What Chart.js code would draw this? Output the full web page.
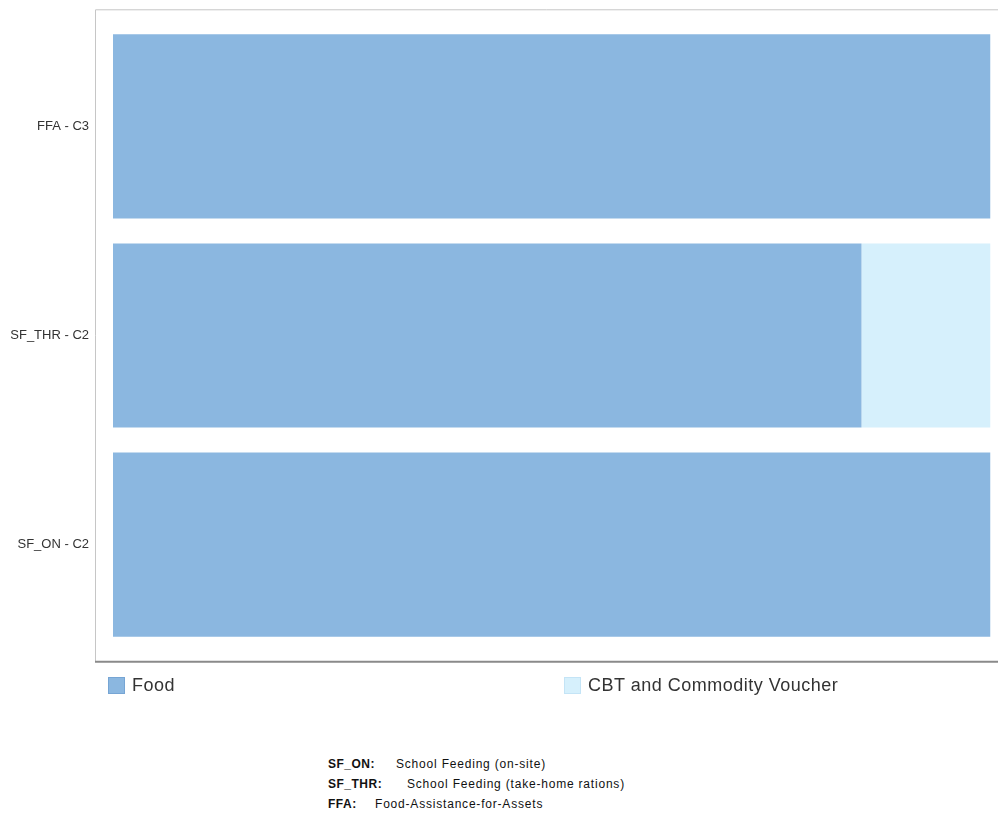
<!DOCTYPE html>
<html>
<head>
<meta charset="utf-8">
<script src="https://cdn.jsdelivr.net/npm/chart.js@4/dist/chart.umd.min.js"></script>
<style>
  body { margin: 0; background: #fff; font-family: "Liberation Sans", Arial, sans-serif; overflow: hidden; }
  #wrap { position: relative; width: 998px; height: 814px; overflow: hidden; }
  #chart { position: absolute; left: 0; top: -10px; }
  .leg { position: absolute; top: 675px; font-size: 18px; letter-spacing: 0.5px; color: #333; white-space: nowrap; }
  .leg .box { position: absolute; left: 0; top: 2px; width: 17px; height: 17px; box-sizing: border-box; }
  .leg span.t { position: absolute; left: 24px; top: 0; line-height: 20px; }
  .note { position: absolute; left: 328px; font-size: 12px; letter-spacing: 0.8px; color: #111; white-space: nowrap; line-height: 14px; }
  .note b { letter-spacing: 0.5px; }
</style>
</head>
<body>
<div id="wrap">
  <canvas id="chart" width="998" height="691"></canvas>
  <div id="legend"></div>
  <div class="note" style="top:757px"><b>SF_ON:</b><span style="position:absolute;left:68px">School Feeding (on-site)</span></div>
  <div class="note" style="top:777px"><b>SF_THR:</b><span style="position:absolute;left:79px">School Feeding (take-home rations)</span></div>
  <div class="note" style="top:797px"><b>FFA:</b><span style="position:absolute;left:47px">Food-Assistance-for-Assets</span></div>
</div>
<script>
const categories = ['FFA - C3', 'SF_THR - C2', 'SF_ON - C2'];
const foodValues = [100, 85.3, 100];
const cbtValues = [0, 14.7, 0];
const seriesNames = ['Food', 'CBT and Commodity Voucher'];
const seriesColors = ['rgb(139, 183, 224)', 'rgb(214, 240, 252)'];
const legendBorders = ['rgb(118, 165, 212)', 'rgb(196, 228, 246)'];
const legendLeft = [108, 564];

// frame around the plot: light left/top lines, darker bottom axis line
const framePlugin = {
  id: 'frame',
  beforeDraw(chart) {
    const { ctx, chartArea } = chart;
    const left = chartArea.left - 17.5;
    const top = chartArea.top - 12;
    const bottom = chartArea.bottom + 12.5;
    ctx.save();
    ctx.strokeStyle = '#c6c6c6';
    ctx.lineWidth = 1;
    ctx.beginPath();
    ctx.moveTo(left, bottom);
    ctx.lineTo(left, top);
    ctx.lineTo(chart.width, top);
    ctx.stroke();
    ctx.strokeStyle = '#8a8a8a';
    ctx.lineWidth = 2;
    ctx.beginPath();
    ctx.moveTo(left - 0.5, bottom);
    ctx.lineTo(chart.width, bottom);
    ctx.stroke();
    ctx.restore();
  }
};

new Chart(document.getElementById('chart').getContext('2d'), {
  type: 'bar',
  data: {
    labels: categories,
    datasets: [
      { label: seriesNames[0], data: foodValues, backgroundColor: seriesColors[0] },
      { label: seriesNames[1], data: cbtValues, backgroundColor: seriesColors[1] }
    ]
  },
  options: {
    indexAxis: 'y',
    responsive: false,
    animation: false,
    devicePixelRatio: 1,
    layout: { padding: { top: 0, bottom: 0, right: 7.5, left: 0 } },
    datasets: { bar: { categoryPercentage: 1, barPercentage: 0.88 } },
    plugins: { legend: { display: false }, tooltip: { enabled: false } },
    scales: {
      x: { stacked: true, min: 0, max: 100, display: false },
      y: {
        stacked: true,
        grid: { display: false, drawTicks: false },
        border: { display: false },
        ticks: { padding: 24, color: '#333', font: { family: '"Liberation Sans", Arial, sans-serif', size: 13 } },
        afterFit(scale) { scale.width = 113; }
      }
    }
  },
  plugins: [framePlugin]
});

const legendEl = document.getElementById('legend');
seriesNames.forEach((name, i) => {
  const item = document.createElement('div');
  item.className = 'leg';
  item.style.left = legendLeft[i] + 'px';
  item.innerHTML = '<div class="box" style="background:' + seriesColors[i] + ';border:1px solid ' + legendBorders[i] + '"></div><span class="t">' + name + '</span>';
  legendEl.appendChild(item);
});
</script>
</body>
</html>
